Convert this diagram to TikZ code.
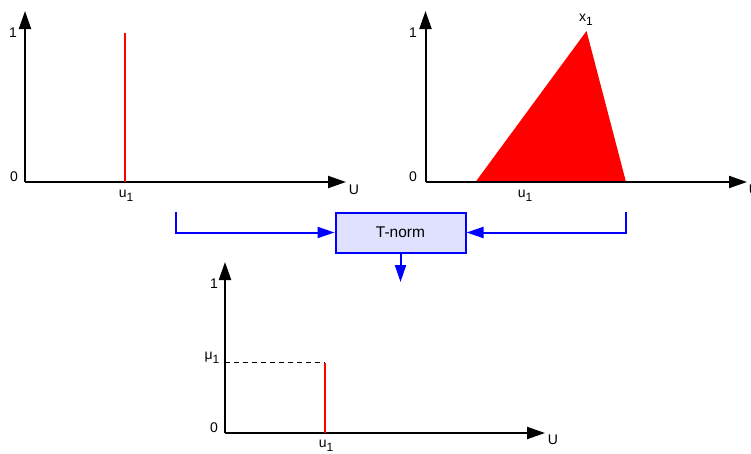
\documentclass[tikz,border=0pt]{standalone}
\usepackage{fontspec}
\setmainfont{Liberation Sans}
\usetikzlibrary{arrows.meta}
\newcommand{\sub}[2]{#1\raisebox{-0.3em}{\fontsize{12}{12}\selectfont #2}}
\begin{document}
\begin{tikzpicture}[x=1pt,y=-1pt,
  axis/.style={line width=2pt,-{Triangle[length=18pt,width=12pt]}},
  redline/.style={red,line width=2pt},
  blueconn/.style={blue,line width=2pt,-{Triangle[length=17pt,width=11pt]}},
  lbl/.style={inner sep=0pt,font=\fontsize{14}{16}\selectfont},
  tnorm/.style={draw=blue,line width=2pt,fill=blue!12,minimum width=130pt,minimum height=40pt,inner sep=0pt,font=\fontsize{15.5}{17}\selectfont}]
\useasboundingbox (0,0) rectangle (751,453);
% ---------- top left plot
\coordinate (o1) at (25,182);
\coordinate (y1) at (25,11);
\coordinate (x1) at (346,182);
\draw[axis] (o1) -- (y1);
\draw[axis] (o1) -- (x1);
\coordinate (r1b) at (125,182);
\coordinate (r1t) at (125,33);
\draw[redline] (r1b) -- (r1t);
\node[lbl] (one1) at (13,33) {1};
\node[lbl] (zero1) at (14,177) {0};
\node[lbl] (U1) at (354,190) {U};
\node[lbl] (u11) at (126,196) {\sub{u}{1}};
% ---------- top right plot
\coordinate (o2) at (425.5,182);
\coordinate (y2) at (425.5,11);
\coordinate (x2) at (747,182);
\fill[red] (475.5,182) -- (586.5,31) -- (626,182) -- cycle;
\draw[axis] (o2) -- (y2);
\draw[axis] (o2) -- (x2);
\node[lbl] (one2) at (413,33) {1};
\node[lbl] (zero2) at (413,177) {0};
\node[lbl] (U2) at (754,190) {U};
\node[lbl] (u12) at (525,196) {\sub{u}{1}};
\node[lbl] (x1l) at (586,20) {\sub{x}{1}};
% ---------- T-norm
\node[tnorm] (T) at (400.5,232.5) {T-norm};
\coordinate (ls) at (175.5,212);
\coordinate (lc) at (175.5,232.5);
\coordinate (rs) at (626,212);
\coordinate (rc) at (626,232.5);
\draw[blueconn] (ls) -- (lc) -- (T.west);
\draw[blueconn] (rs) -- (rc) -- (T.east);
\coordinate (dn) at (400.5,282);
\draw[blueconn] (T.south) -- (dn);
% ---------- bottom plot
\coordinate (o3) at (225,433);
\coordinate (y3) at (225,262);
\coordinate (x3) at (545,433);
\draw[axis] (o3) -- (y3);
\draw[axis] (o3) -- (x3);
\coordinate (m1) at (225,362.5);
\coordinate (m2) at (325,362.5);
\coordinate (r3b) at (325,433);
\draw[line width=1.4pt,dash pattern=on 5pt off 4pt] (m1) -- (m2);
\draw[redline] (r3b) -- (m2);
\node[lbl] (one3) at (214,284) {1};
\node[lbl] (mu) at (212,358) {\sub{μ}{1}};
\node[lbl] (zero3) at (214,428) {0};
\node[lbl] (U3) at (553,440) {U};
\node[lbl] (u13) at (326,446) {\sub{u}{1}};
\end{tikzpicture}
\end{document}
